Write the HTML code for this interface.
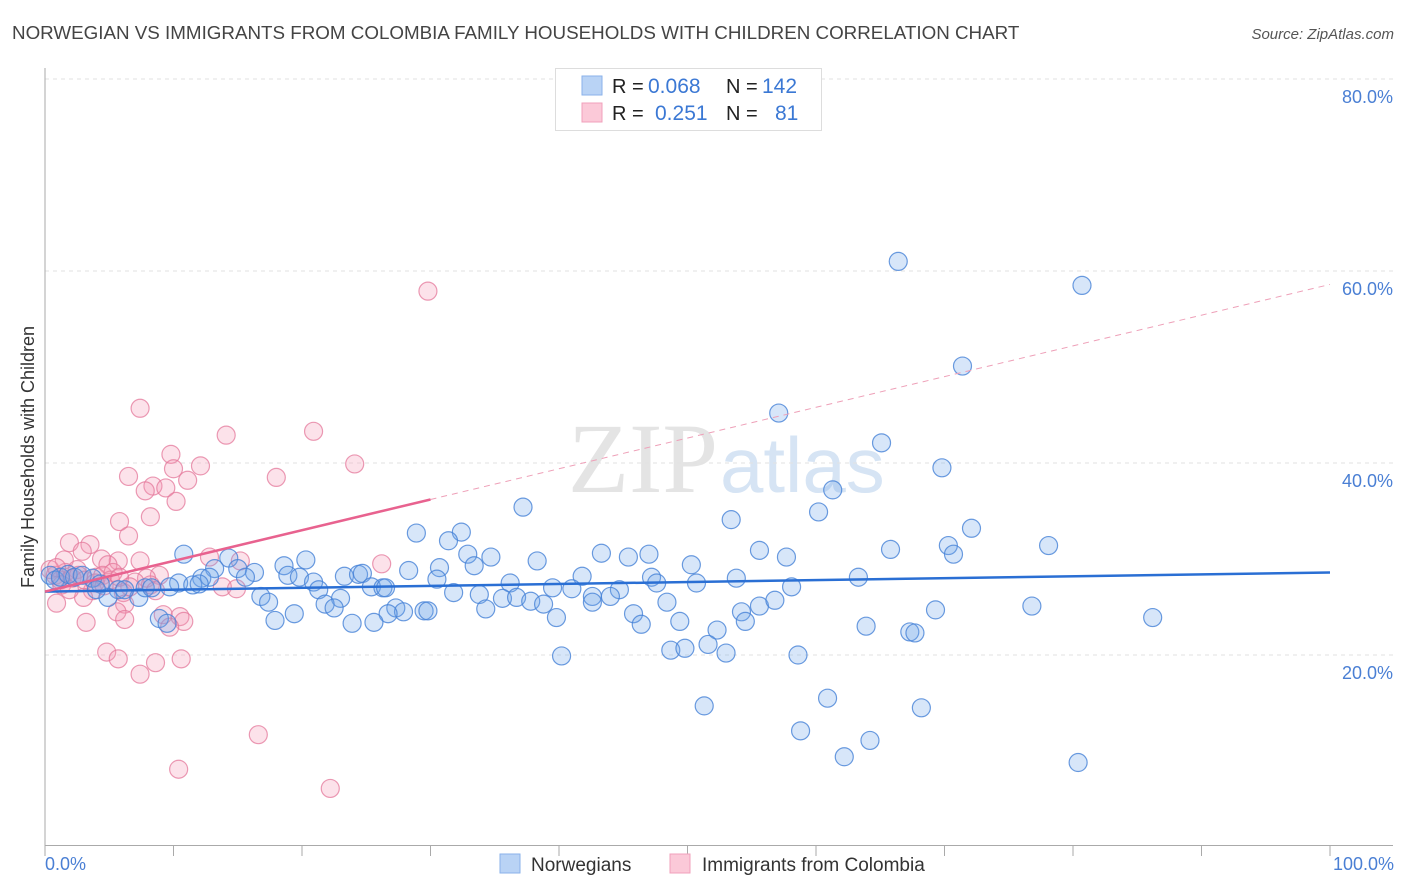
<!DOCTYPE html>
<html><head><meta charset="utf-8"><style>
body{margin:0;background:#fff;font-family:"Liberation Sans",sans-serif;}
#wrap{position:relative;width:1406px;height:892px;overflow:hidden;}
</style></head><body>
<div id="wrap">
<svg id="svg" width="1406" height="892" xmlns="http://www.w3.org/2000/svg">
<text x="12" y="39" font-size="18.8" fill="#444">NORWEGIAN VS IMMIGRANTS FROM COLOMBIA FAMILY HOUSEHOLDS WITH CHILDREN CORRELATION CHART</text>
<text x="1394" y="39" font-size="15" fill="#555" font-style="italic" text-anchor="end">Source: ZipAtlas.com</text>
<text x="718" y="492" font-size="100" fill="#e4e4e4" text-anchor="end" font-family="Liberation Serif">ZIP</text>
<text x="720" y="492" font-size="78" fill="#d6e4f4">atlas</text>
<g id="grid"></g>
<g id="axes"></g>
<g id="marks"></g>
<text transform="translate(34,457) rotate(-90)" font-size="18" fill="#333" text-anchor="middle">Family Households with Children</text>
<text x="45" y="870" font-size="18" fill="#4a7fd4">0.0%</text>
<text x="1394" y="870" font-size="18" fill="#4a7fd4" text-anchor="end">100.0%</text>
<g>
<rect x="555.5" y="68.5" width="266" height="62" fill="#fff" stroke="#ddd"/>
<rect x="582" y="76" width="20" height="19" fill="#b9d3f5" stroke="#8ab2ea"/>
<rect x="582" y="103" width="20" height="19" fill="#fbc9d8" stroke="#f0a0bb"/>
<text x="612" y="93" font-size="20" fill="#222">R =</text>
<text x="648" y="93" font-size="21" fill="#3b78d4">0.068</text>
<text x="726" y="93" font-size="20" fill="#222">N =</text>
<text x="762" y="93" font-size="21" fill="#3b78d4">142</text>
<text x="612" y="120" font-size="20" fill="#222">R =</text>
<text x="655" y="120" font-size="21" fill="#3b78d4">0.251</text>
<text x="726" y="120" font-size="20" fill="#222">N =</text>
<text x="775" y="120" font-size="21" fill="#3b78d4">81</text>
</g>
<g>
<rect x="500" y="854" width="20" height="19" fill="#b9d3f5" stroke="#8ab2ea"/>
<text x="531" y="871" font-size="19" fill="#333">Norwegians</text>
<rect x="670" y="854" width="20" height="19" fill="#fbc9d8" stroke="#f0a0bb"/>
<text x="702" y="871" font-size="19" fill="#333">Immigrants from Colombia</text>
</g>
</svg>
</div>
<script>
const yTicks=[20,40,60,80];
const yTickLabels=["20.0%","40.0%","60.0%","80.0%"];
const xTicks=[0,10,20,30,40,50,60,70,80,90,100];
const blueX=[66.4,80.7,71.4,57.1,65.1,69.8,61.3,37.2,53.4,60.2,72.1,28.9,32.4,31.4,70.3,78.1,65.8,55.6,43.3,70.7,10.8,32.9,34.7,45.4,47.0,57.7,38.3,14.3,20.3,18.6,50.3,30.7,33.4,13.2,28.3,15.0,16.3,23.3,24.4,24.7,18.9,19.8,41.8,47.2,53.8,63.3,30.5,12.2,12.8,15.6,20.9,47.6,50.7,36.2,10.4,11.5,12.0,9.7,5.7,39.5,41.0,44.7,42.6,44.0,58.1,25.4,26.3,26.5,21.3,31.8,33.8,16.8,23.0,35.6,36.7,37.8,38.8,42.6,48.4,4.9,7.3,17.4,21.8,22.5,27.3,27.9,29.5,29.8,26.7,55.6,56.8,54.2,69.3,76.8,34.3,45.8,8.9,9.5,17.9,19.4,39.8,86.2,23.9,25.6,46.4,49.4,54.5,63.9,52.3,67.3,67.7,51.6,48.7,49.8,53.0,58.6,40.2,60.9,51.3,68.2,58.8,64.2,62.2,80.4,0.4,0.8,1.2,1.8,2.3,2.9,3.7,4.3,6.2,7.8,8.3,4.0];
const blueY=[61.0,58.5,50.1,45.2,42.1,39.5,37.2,35.4,34.1,34.9,33.2,32.7,32.8,31.9,31.4,31.4,31.0,30.9,30.6,30.5,30.5,30.5,30.2,30.2,30.5,30.2,29.8,30.1,29.9,29.3,29.4,29.1,29.3,29.0,28.8,29.0,28.6,28.2,28.4,28.5,28.3,28.1,28.2,28.1,28.0,28.1,27.9,28.0,28.1,28.1,27.6,27.5,27.5,27.5,27.5,27.3,27.4,27.1,26.8,27.0,26.9,26.8,26.1,26.1,27.1,27.1,27.0,27.0,26.8,26.5,26.3,26.1,25.9,25.9,26.0,25.6,25.3,25.5,25.5,26.0,26.0,25.5,25.3,24.9,24.9,24.5,24.6,24.6,24.3,25.1,25.7,24.5,24.7,25.1,24.8,24.3,23.8,23.3,23.6,24.3,23.9,23.9,23.3,23.4,23.2,23.5,23.5,23.0,22.6,22.4,22.3,21.1,20.5,20.7,20.2,20.0,19.9,15.5,14.7,14.5,12.1,11.1,9.4,8.8,28.3,27.8,28.1,28.4,28.1,28.3,28.0,27.4,26.8,27.0,27.0,26.8];
const pinkX=[29.8,7.4,20.9,14.1,9.8,24.1,12.1,10.0,6.5,18.0,11.1,8.4,9.4,7.8,10.2,8.2,5.8,6.5,1.9,3.5,2.9,12.8,15.2,26.2,1.5,4.4,5.7,7.4,4.9,2.5,8.9,7.9,7.0,8.2,13.8,8.6,3.7,6.1,3.0,0.9,6.2,5.6,3.2,6.2,9.2,10.5,10.8,9.7,4.8,5.7,10.6,8.6,7.4,16.6,10.4,22.2,0.4,0.8,1.2,1.6,2.1,2.6,3.1,4.0,4.5,5.1,5.3,5.8,6.6,1.3,1.9,3.9,4.6,0.9,14.9];
const pinkY=[57.9,45.7,43.3,42.9,40.9,39.9,39.7,39.4,38.6,38.5,38.2,37.6,37.4,37.1,36.0,34.4,33.9,32.4,31.7,31.5,30.8,30.2,29.8,29.5,29.9,30.0,29.8,29.8,29.4,28.9,28.3,28.0,27.6,27.3,27.1,26.7,26.7,26.5,26.0,25.4,25.3,24.5,23.4,23.7,24.2,24.0,23.5,22.9,20.3,19.6,19.6,19.2,18.0,11.7,8.1,6.1,28.9,28.3,27.8,28.6,28.0,28.3,27.8,28.1,28.3,27.8,28.6,28.1,27.1,27.3,26.8,27.5,27.2,29.1,26.9];
const blueTrend=[26.6,28.6];     // y at x=0 and x=100
const pinkTrend=[26.6,58.6];     // y at x=0 and x=100
const pinkSolidEnd=30;

const X0=45,X1=1330,Y0=847,PPY=9.6;
const sx=v=>X0+(X1-X0)*v/100;
const sy=v=>Y0-v*PPY;
const NS='http://www.w3.org/2000/svg';
function mk(tag,attrs,parent){const e=document.createElementNS(NS,tag);for(const k in attrs)e.setAttribute(k,attrs[k]);parent.appendChild(e);return e;}
const grid=document.getElementById('grid'),axes=document.getElementById('axes'),marks=document.getElementById('marks');
yTicks.forEach((t,i)=>{
 const g=mk('line',{x1:X0,x2:1393,y1:sy(t),y2:sy(t),stroke:'#e2e2e2','stroke-dasharray':'4,4'},grid);
 
 
 const l=mk('text',{x:1393,y:sy(t)+24,'font-size':18,fill:'#4a7fd4','text-anchor':'end'},axes);
 l.textContent=yTickLabels[i];
 
 
});
const ya=mk('line',{x1:X0,x2:X0,y1:68,y2:846,stroke:'#aaa'},axes);


const xa=mk('line',{x1:X0,x2:1393,y1:845.5,y2:845.5,stroke:'#aaa'},axes);


xTicks.forEach(t=>{
 const k=mk('line',{x1:sx(t),x2:sx(t),y1:845,y2:856,stroke:'#aaa'},axes);
 
 
});
function pts(xs,ys,fill,stroke,name){
 xs.forEach((x,i)=>{
  const c=mk('circle',{cx:sx(x),cy:sy(ys[i]),r:9,fill:fill,stroke:stroke,'stroke-width':1.2},marks);
  
  
 });
}
pts(pinkX,pinkY,'rgba(244,150,180,0.28)','rgba(228,120,155,0.75)','colombia-point');
pts(blueX,blueY,'rgba(110,165,235,0.28)','rgba(70,130,215,0.8)','norwegian-point');
const bl=mk('line',{x1:sx(0),y1:sy(blueTrend[0]),x2:sx(100),y2:sy(blueTrend[1]),stroke:'#2a6fd4','stroke-width':2.5},marks);


const pAt=x=>pinkTrend[0]+(pinkTrend[1]-pinkTrend[0])*x/100;
const ps=mk('line',{x1:sx(0),y1:sy(pAt(0)),x2:sx(pinkSolidEnd),y2:sy(pAt(pinkSolidEnd)),stroke:'#e8628f','stroke-width':2.5},marks);


const pd=mk('line',{x1:sx(pinkSolidEnd),y1:sy(pAt(pinkSolidEnd)),x2:sx(100),y2:sy(pAt(100)),stroke:'#eea0b8','stroke-width':1,'stroke-dasharray':'6,5'},marks);


</script>
</body></html>
